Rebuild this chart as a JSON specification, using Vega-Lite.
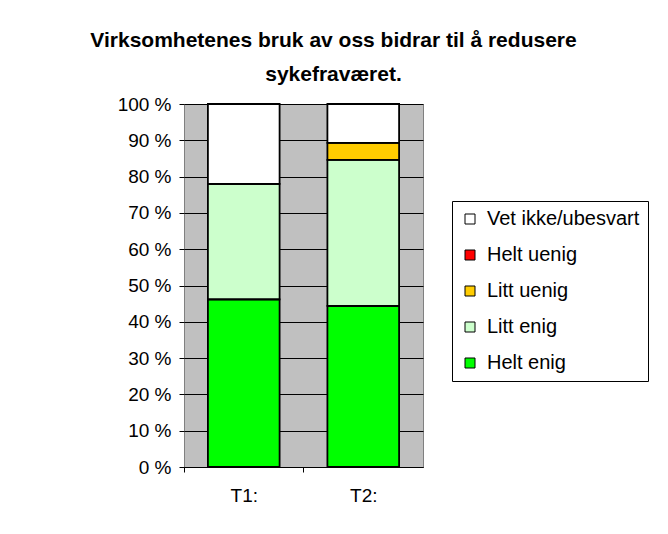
{
  "$schema": "https://vega.github.io/schema/vega-lite/v6.json",
  "width": 239,
  "height": 363,
  "autosize": "none",
  "padding": {"left": 184, "top": 104, "right": 245, "bottom": 67},
  "background": "white",
  "config": {
    "font": "Liberation Sans",
    "view": {"fill": "#C0C0C0", "stroke": "#808080", "strokeWidth": 1}
  },
  "title": {
    "text": ["Virksomhetenes bruk av oss bidrar til å redusere", "sykefraværet."],
    "font": "Liberation Sans",
    "fontSize": 21,
    "fontWeight": "bold",
    "color": "black",
    "lineHeight": 34,
    "anchor": "middle",
    "frame": "group",
    "dx": 30,
    "offset": 10
  },
  "data": {
    "values": [
      {"tid": "T1:", "svar": "Helt enig", "andel": 46.2},
      {"tid": "T1:", "svar": "Litt enig", "andel": 31.8},
      {"tid": "T1:", "svar": "Litt uenig", "andel": 0},
      {"tid": "T1:", "svar": "Helt uenig", "andel": 0},
      {"tid": "T1:", "svar": "Vet ikke/ubesvart", "andel": 22.0},
      {"tid": "T2:", "svar": "Helt enig", "andel": 44.4},
      {"tid": "T2:", "svar": "Litt enig", "andel": 40.2},
      {"tid": "T2:", "svar": "Litt uenig", "andel": 4.7},
      {"tid": "T2:", "svar": "Helt uenig", "andel": 0},
      {"tid": "T2:", "svar": "Vet ikke/ubesvart", "andel": 10.7}
    ]
  },
  "mark": {"type": "bar", "stroke": "black", "strokeWidth": 1.8},
  "encoding": {
    "x": {
      "field": "tid",
      "type": "nominal",
      "scale": {"paddingInner": 0.4, "paddingOuter": 0.2},
      "axis": {
        "title": null,
        "labelAngle": 0,
        "labelFontSize": 19,
        "labelColor": "black",
        "labelPadding": 14,
        "tickSize": 5,
        "tickColor": "black",
        "tickOffset": -60,
        "labelOffset": 60,
        "domainColor": "black",
        "grid": false
      }
    },
    "y": {
      "field": "andel",
      "type": "quantitative",
      "stack": "zero",
      "scale": {"domain": [0, 100], "nice": false},
      "axis": {
        "title": null,
        "values": [0, 10, 20, 30, 40, 50, 60, 70, 80, 90, 100],
        "labelExpr": "datum.value + ' %'",
        "labelFontSize": 19,
        "labelColor": "black",
        "labelPadding": 8,
        "tickSize": 5,
        "tickColor": "black",
        "domain": false,
        "grid": true,
        "gridColor": "black",
        "gridWidth": 1,
        "gridOpacity": 1
      }
    },
    "order": {"field": "svar", "sort": "ascending"},
    "fill": {
      "field": "svar",
      "type": "nominal",
      "scale": {
        "domain": ["Vet ikke/ubesvart", "Helt uenig", "Litt uenig", "Litt enig", "Helt enig"],
        "range": ["#FFFFFF", "#FF0000", "#FFCC00", "#CCFFCC", "#00FF00"]
      },
      "legend": {
        "title": null,
        "orient": "none",
        "legendX": 268,
        "legendY": 97,
        "symbolType": "square",
        "symbolSize": 100,
        "symbolStrokeColor": "black",
        "symbolStrokeWidth": 1,
        "labelFontSize": 20,
        "labelColor": "black",
        "labelOffset": 7,
        "labelLimit": 300,
        "rowPadding": 16,
        "padding": 8,
        "strokeColor": "black",
        "fillColor": "white"
      }
    }
  }
}
